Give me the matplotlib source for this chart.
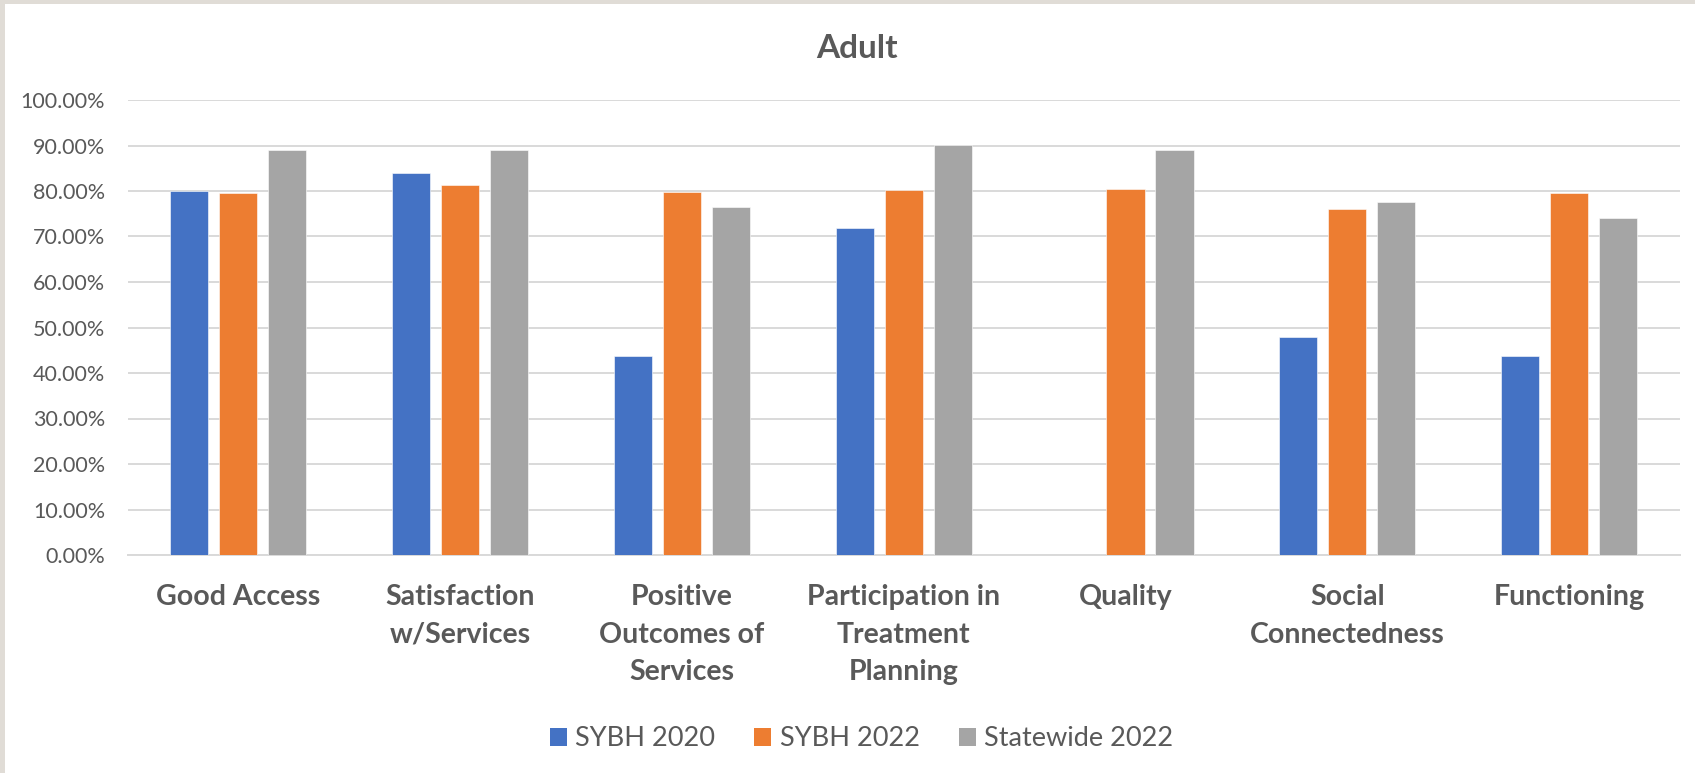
import numpy as np
import matplotlib
matplotlib.use("Agg")
import matplotlib.pyplot as plt
from matplotlib.patches import Patch, Rectangle

plt.rcParams['font.family'] = ['Lato', 'DejaVu Sans']

# datos
categorias = ["Good Access", "Satisfaction\nw/Services", "Positive\nOutcomes of\nServices",
              "Participation in\nTreatment\nPlanning", "Quality", "Social\nConnectedness",
              "Functioning"]
series = ["SYBH 2020", "SYBH 2022", "Statewide 2022"]
sybh_2020 = [0.800, 0.839, 0.438, 0.719, np.nan, 0.480, 0.438]
sybh_2022 = [0.795, 0.814, 0.797, 0.802, 0.805, 0.760, 0.796]
statewide_2022 = [0.891, 0.891, 0.764, 0.902, 0.891, 0.775, 0.740]
colores = ["#4472C4", "#ED7D31", "#A5A5A5"]
y_ticks = np.arange(0, 1.01, 0.1)

texto = "#595959"
W, H = 1695, 773

fig = plt.figure(figsize=(W / 100, H / 100), dpi=100)
fig.patch.set_facecolor("white")

# marco beige de la captura
fig.add_artist(Rectangle((0, 1 - 4 / H), 1, 4 / H, transform=fig.transFigure,
                         facecolor="#E0DCD6", edgecolor="none"))
fig.add_artist(Rectangle((0, 0), 5 / W, 1, transform=fig.transFigure,
                         facecolor="#E0DCD6", edgecolor="none"))

ax = fig.add_axes([127.5 / W, 1 - 555 / H, (1680 - 127.5) / W, 455 / H])

x = np.arange(len(categorias))
ancho = 0.172
sep = 0.221
for i, (vals, col) in enumerate(zip([sybh_2020, sybh_2022, statewide_2022], colores)):
    ax.bar(x + (i - 1) * sep, vals, width=ancho, color=col, zorder=3,
           edgecolor="white", linewidth=0.4)

ax.set_xlim(-0.5, len(categorias) - 0.5)
ax.set_ylim(0, 1)
ax.set_yticks(y_ticks)
ax.set_yticklabels([f"{v * 100:.2f}%" for v in y_ticks])
ax.yaxis.grid(True, color="#D9D9D9", linewidth=1.4, zorder=0)
ax.set_axisbelow(True)
for s in ["top", "right", "left"]:
    ax.spines[s].set_visible(False)
ax.spines["bottom"].set_color("#D9D9D9")
ax.spines["bottom"].set_linewidth(1.4)

ax.tick_params(axis="y", length=0, pad=16, labelsize=15.5, labelcolor=texto)
ax.tick_params(axis="x", length=0, pad=21, labelsize=20.5, labelcolor=texto)
ax.set_xticks(x)
ax.set_xticklabels(categorias, fontweight="bold", linespacing=1.55)

fig.text(856.5 / W, 1 - 49 / H, "Adult", ha="center", va="center",
         fontsize=24, fontweight="bold", color=texto)

handles = [Patch(facecolor=c, edgecolor="none") for c in colores]
fig.legend(handles, series, loc="center", bbox_to_anchor=(861.5 / W, 1 - 739 / H),
           ncol=3, frameon=False, fontsize=19.5, labelcolor=texto,
           handlelength=0.63, handleheight=0.63, handletextpad=0.3,
           columnspacing=1.44, borderpad=0, borderaxespad=0)

fig.savefig("out.png", dpi=100)
